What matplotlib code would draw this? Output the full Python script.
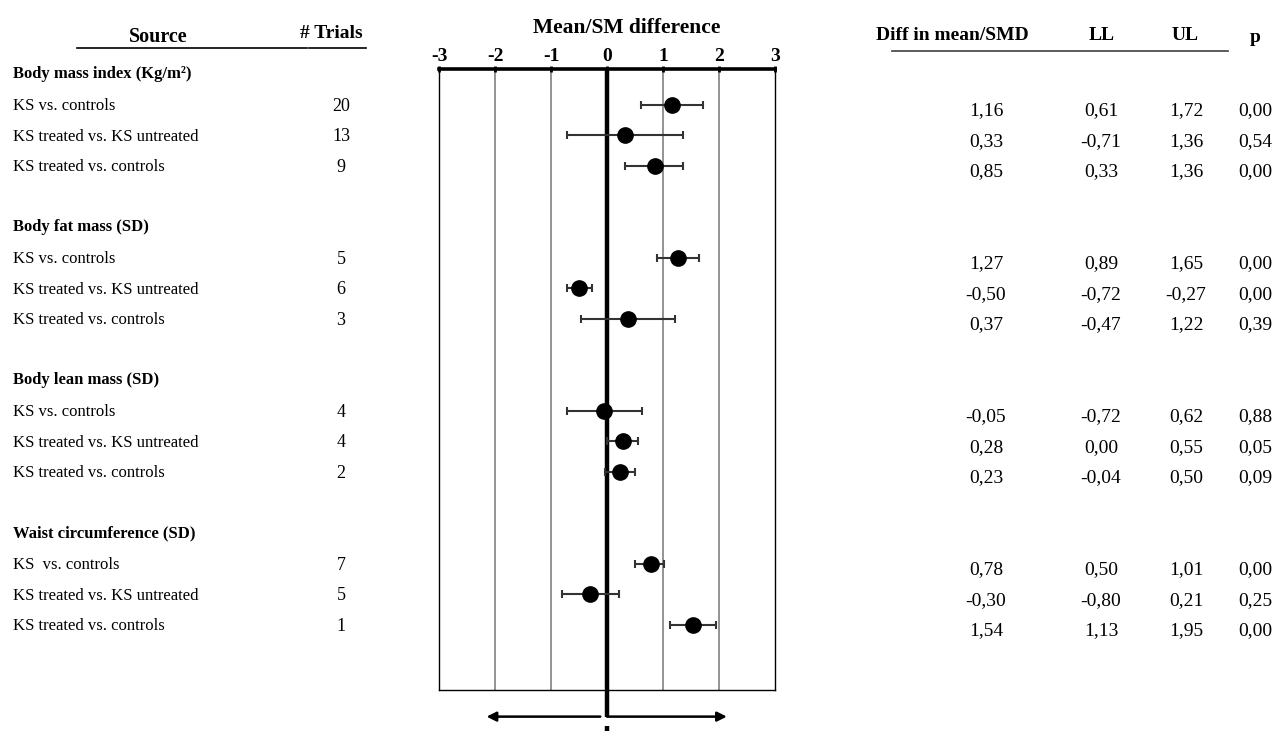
import matplotlib
matplotlib.use("Agg")
import matplotlib.pyplot as plt
import matplotlib.transforms as transforms

plt.rcParams['font.family'] = ['Liberation Serif', 'DejaVu Serif']

# Data
groups = ["Body mass index (Kg/m²)", "Body fat mass (SD)",
          "Body lean mass (SD)", "Waist circumference (SD)"]
comparisons = ["KS vs. controls", "KS treated vs. KS untreated", "KS treated vs. controls"]
waist_comparisons = ["KS  vs. controls", "KS treated vs. KS untreated", "KS treated vs. controls"]
trials = [[20, 13, 9], [5, 6, 3], [4, 4, 2], [7, 5, 1]]
effect = [[1.16, 0.33, 0.85], [1.27, -0.50, 0.37], [-0.05, 0.28, 0.23], [0.78, -0.30, 1.54]]
lower = [[0.61, -0.71, 0.33], [0.89, -0.72, -0.47], [-0.72, 0.00, -0.04], [0.50, -0.80, 1.13]]
upper = [[1.72, 1.36, 1.36], [1.65, -0.27, 1.22], [0.62, 0.55, 0.50], [1.01, 0.21, 1.95]]
pvals = [[0.00, 0.54, 0.00], [0.00, 0.00, 0.39], [0.88, 0.05, 0.09], [0.00, 0.25, 0.00]]
xticks = [-3, -2, -1, 0, 1, 2, 3]


def comma(v):
    return f"{v:.2f}".replace(".", ",")


W, H = 1288, 731
fig = plt.figure(figsize=(W / 100, H / 100), dpi=100)
ax = fig.add_axes([439 / W, 1 - 690 / H, 336 / W, 621 / H])
ax.set_xlim(-3, 3)
ax.set_ylim(20.13, -0.163)

# grid lines and zero line
for t in xticks:
    if t in (-3, 3, 0):
        continue
    ax.axvline(t, color="#808080", lw=1.2, zorder=1)
ax.plot([0, 0], [-0.163, 21.0], color="black", lw=3.2, zorder=3, clip_on=False,
        solid_capstyle="butt")
ax.plot([0, 0], [21.3, 21.8], color="black", lw=3.2, zorder=3, clip_on=False,
        solid_capstyle="butt")

# arrows below the plot
ax.annotate("", xy=(-2.15, 21.0), xytext=(-0.12, 21.0), annotation_clip=False,
            arrowprops=dict(arrowstyle="-|>", color="black", lw=1.8, mutation_scale=14,
                            shrinkA=0, shrinkB=0))
ax.annotate("", xy=(2.14, 21.0), xytext=(0, 21.0), annotation_clip=False,
            arrowprops=dict(arrowstyle="-|>", color="black", lw=1.8, mutation_scale=14,
                            shrinkA=0, shrinkB=0))

for side in ["left", "right", "bottom"]:
    ax.spines[side].set_linewidth(1.0)
ax.spines["top"].set_linewidth(2.6)
ax.xaxis.tick_top()
ax.set_xticks(xticks)
ax.set_xticklabels([str(t) for t in xticks], fontsize=14, fontweight="bold")
ax.tick_params(axis="x", direction="inout", length=4, width=2, pad=1)
ax.set_yticks([])
ax.set_title("Mean/SM difference", fontsize=15.5, fontweight="bold", pad=26, x=0.56)

trans = transforms.blended_transform_factory(fig.transFigure, ax.transData)

for g in range(len(groups)):
    hy = 5 * g
    fig.text(13 / W, hy, groups[g], transform=trans, fontsize=12, fontweight="bold",
             va="center", ha="left")
    labels = waist_comparisons if g == 3 else comparisons
    for i in range(3):
        y = hy + 1 + i
        ax.errorbar(effect[g][i], y,
                    xerr=[[effect[g][i] - lower[g][i]], [upper[g][i] - effect[g][i]]],
                    fmt="o", color="black", ms=11, ecolor="#333333", elinewidth=1.5,
                    capsize=3, capthick=1.5, zorder=4)
        fig.text(13 / W, y + 0.05, labels[i], transform=trans, fontsize=12,
                 va="center", ha="left")
        fig.text(341 / W, y + 0.05, str(trials[g][i]), transform=trans, fontsize=13,
                 va="center", ha="center")
        fig.text(986 / W, y + 0.2, comma(effect[g][i]), transform=trans, fontsize=14,
                 va="center", ha="center")
        fig.text(1101 / W, y + 0.2, comma(lower[g][i]), transform=trans, fontsize=14,
                 va="center", ha="center")
        fig.text(1186 / W, y + 0.2, comma(upper[g][i]), transform=trans, fontsize=14,
                 va="center", ha="center")
        fig.text(1255 / W, y + 0.2, comma(pvals[g][i]), transform=trans, fontsize=14,
                 va="center", ha="center")

# column headers
fig.text(158 / W, 1 - 37 / H, "Source", fontsize=14.5, fontweight="bold", ha="center", va="center")
fig.text(331 / W, 1 - 34 / H, "# Trials", fontsize=14, fontweight="bold", ha="center", va="center")
fig.text(952 / W, 1 - 36 / H, "Diff in mean/SMD", fontsize=14, fontweight="bold", ha="center", va="center")
fig.text(1102 / W, 1 - 36 / H, "LL", fontsize=14, fontweight="bold", ha="center", va="center")
fig.text(1185 / W, 1 - 36 / H, "UL", fontsize=14, fontweight="bold", ha="center", va="center")
fig.text(1255 / W, 1 - 38 / H, "p", fontsize=14, fontweight="bold", ha="center", va="center")

fig.add_artist(plt.Line2D([77 / W, 307 / W], [1 - 48 / H, 1 - 48 / H], color="black", lw=1.2))
fig.add_artist(plt.Line2D([309 / W, 366 / W], [1 - 48 / H, 1 - 48 / H], color="black", lw=1.2))
fig.add_artist(plt.Line2D([892 / W, 1228 / W], [1 - 51 / H, 1 - 51 / H], color="#404040", lw=1.2))

fig.savefig("out.png", dpi=100)
